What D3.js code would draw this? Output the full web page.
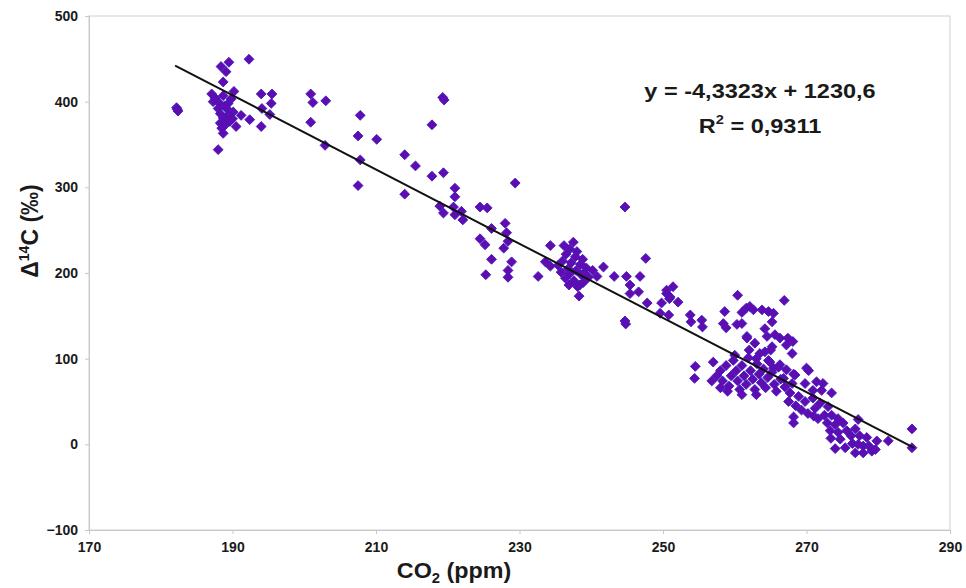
<!DOCTYPE html>
<html>
<head>
<meta charset="utf-8">
<script src="https://cdn.jsdelivr.net/npm/d3@7"></script>
<style>
    body { margin: 0; background: #fff; }
    text { font-family: "Liberation Sans", Arial, sans-serif; font-weight: bold; fill: #1a1a1a; }
    .axis path, .axis line { stroke: #c8c8c8; }
    .axis text { font-size: 14px; }
</style>
</head>
<body>
<script>
// CO2 (ppm) / delta 14C (per mil) pairs
const co2 = [
    182.3, 182.2, 182.4, 192.3, 189.5, 188.4, 189.1, 188.7, 190.2, 187.1, 188.7, 187.3, 188.2, 189.4, 188, 189.2,
    190.1, 188.3, 189.4, 191.2, 192.4, 188.7, 188.3, 189, 190.5, 188.5, 188.7, 194, 188, 194, 195.5, 194.1,
    195.4, 195.2, 190, 187.6, 189.8, 188.9, 189.6, 200.9, 201.2, 203, 200.9, 207.8, 207.5, 210.1, 202.9, 207.8,
    207.5, 214, 215.5, 214,
    219.3, 219.5, 217.8, 217.8, 219.4, 221, 221, 218.9, 219.4, 220.8, 221, 221.9, 222.1, 229.4, 224.5, 225.5,
    226.1, 228, 228.2, 224.5, 225.2, 228.4, 227.8, 226.1, 228.9, 225.3, 228.4, 228.4, 232.6, 233.6, 234.3, 234.3,
    236.2, 237.5, 237, 238, 236.5, 237.8, 238.8, 236, 237.2, 238.5, 239.3, 236.8, 237.9, 235.8, 237, 238.6,
    239.6, 236.4, 237.6, 238.9, 236.9, 238.1, 239, 240.2, 235.4, 238.3, 238.4, 241.7, 240.8, 243.2, 244.9, 245.4,
    246.8, 245.4, 246.6, 247.8, 249.8, 250.5, 251.4, 250.9, 249.6, 250.8, 244.7, 247.6, 244.8, 244.7,
    250.5, 251, 252.1, 253.8, 253.9, 255.4, 255.5, 260.4, 258.6, 261, 261.6, 262.6, 258.4, 258.8, 260.3, 261,
    261.7, 262.8, 254.5, 254.4, 266.9, 262.1, 263.8, 264.7, 265.4, 265.2, 264.2, 264.5, 265.6, 266.3, 267.4, 268.1,
    267.2, 265.2, 261.7, 268, 264.2, 263, 264.7, 266.3, 265.4, 267.2, 268.4, 270, 266.8, 268, 256.8,
    257.5, 258, 258.3, 258.8, 259.2, 259.5, 259.8, 260.2, 260.4, 260.7, 261, 261.3, 261.6, 261.9, 262.2, 262.5,
    262.8, 263.1, 263.4, 263.7, 264, 264.3, 264.6, 264.9, 265.2, 265.5, 265.8, 266.1, 266.4, 259, 260, 262,
    263.5, 257, 258, 261, 263, 265,
    270.3, 268.2, 269.8, 271.4, 272.3, 272.1, 273.5, 270.9, 267, 267.7, 268.9, 269.8, 270.9, 271.9, 273, 271.2,
    268.2, 268.2, 271.6, 272.5, 273.5, 274.4, 272.9, 274, 275.1, 277.2, 276.8, 275.6, 274.4, 273.3, 276.2, 277.4,
    278.4, 279.8, 281.4, 284.7, 284.7, 274, 275.4, 276.8, 277.9, 279.1, 277.9, 276.4, 274.7, 273.4, 277.2, 278.7,
    279.6, 267.5, 268.5, 269.3, 270.2, 271
];
const d14c = [
    391, 393, 389, 449.5, 446, 441, 435, 423, 412, 409, 407, 400, 398, 398, 392, 392,
    388, 386, 384, 384, 379, 381, 375, 373, 371, 369, 363, 371, 344, 409, 409, 392,
    398, 385, 380, 404, 403, 395, 377, 409, 399, 401, 376, 384, 360, 356, 349, 332,
    302, 338, 325, 292,
    405, 402, 373, 313, 317, 299, 289, 278, 270, 277, 268, 272, 262, 305, 277, 276,
    252, 258, 247, 240, 233, 237, 229, 216, 213, 198, 203, 195, 196, 213, 208, 232,
    232, 236, 228, 225, 222, 219, 216, 214, 212, 210, 206, 205, 203, 201, 199, 198,
    195, 194, 191, 189, 186, 184, 200, 203, 209, 173, 186, 207, 196, 196, 196, 186,
    196, 176, 178, 165, 165, 176, 184, 170, 153, 151, 277, 217, 140.5, 144,
    180, 172, 166, 151, 143, 145, 137, 174, 155, 154, 159, 157, 141, 136, 140, 141,
    126, 118, 91, 77, 168, 161, 157, 155, 153, 143, 135, 126, 128, 124, 124, 120,
    116, 114, 124, 106, 108, 100, 98, 93, 89, 87, 81, 89, 77, 71, 74,
    80, 86, 74, 92, 68, 80, 98, 86, 74, 64, 92, 80, 70, 101, 86, 76,
    64, 94, 82, 72, 88, 66, 78, 96, 84, 70, 62, 90, 76, 62, 104, 110,
    106, 96, 66, 58, 58, 110,
    86, 82, 71, 73, 71, 63, 60, 63, 67, 60, 56, 50, 54, 48, 44, 42,
    32, 25, 30, 34, 34, 30, 25, 23, 25, 29, 18, 16, 14, 16, 10, 10,
    8, 4, 4, 18, -4, -5, -4, -10, -10, -8, -2, 1, 6, 7, 0, -2,
    -6, 50, 45, 40, 36, 33
];

// linear trend as printed on the chart
const slope = -4.3323;
const intercept = 1230.6;
const trendRange = [182, 285];

const xTicks = [170, 190, 210, 230, 250, 270, 290];
const yTicks = [-100, 0, 100, 200, 300, 400, 500];

const width = 966, height = 588;
const margins = {top: 16, left: 89, right: 16, bottom: 58};
const quadrantWidth = width - margins.left - margins.right;
const quadrantHeight = height - margins.top - margins.bottom;

const svg = d3.select('body').append('svg')
    .attr('width', width)
    .attr('height', height);

const x = d3.scaleLinear().domain([170, 290]).range([0, quadrantWidth]);
const y = d3.scaleLinear().domain([-100, 500]).range([quadrantHeight, 0]);

const bodyG = svg.append('g')
    .attr('transform', 'translate(' + margins.left + ',' + margins.top + ')');

// light frame round the plot area
bodyG.append('rect')
    .attr('width', quadrantWidth)
    .attr('height', quadrantHeight)
    .attr('fill', 'none')
    .attr('stroke', '#d0d0d0');

bodyG.append('g')
    .attr('class', 'x axis')
    .attr('transform', 'translate(0,' + quadrantHeight + ')')
    .call(d3.axisBottom(x).tickValues(xTicks).tickSize(4).tickPadding(8).tickFormat(d3.format('d')));

bodyG.append('g')
    .attr('class', 'y axis')
    .call(d3.axisLeft(y).tickValues(yTicks).tickSize(4).tickPadding(7).tickFormat(d3.format('d')));

const points = co2.map((c, i) => ({x: c, y: d14c[i]}));
const diamond = d3.symbol().type(d3.symbolDiamond2).size(62);

bodyG.append('g')
    .selectAll('path')
    .data(points)
    .enter().append('path')
    .attr('d', diamond)
    .attr('transform', d => 'translate(' + x(d.x) + ',' + y(d.y) + ')')
    .attr('fill', '#620bb0')
    .attr('stroke', '#3a1cc0')
    .attr('stroke-width', 0.9);

bodyG.append('line')
    .attr('x1', x(trendRange[0]))
    .attr('y1', y(slope * trendRange[0] + intercept))
    .attr('x2', x(trendRange[1]))
    .attr('y2', y(slope * trendRange[1] + intercept))
    .attr('stroke', '#111')
    .attr('stroke-width', 2);

// equation box, the source text is a little wider than Arial
const eq = svg.append('g').attr('transform', 'translate(760,0) scale(1.12,1)');
eq.append('text')
    .attr('y', 98)
    .attr('text-anchor', 'middle')
    .style('font-size', '21px')
    .text('y = -4,3323x + 1230,6');
const r2 = eq.append('text')
    .attr('y', 133)
    .attr('text-anchor', 'middle')
    .style('font-size', '21px');
r2.append('tspan').text('R');
r2.append('tspan').attr('dy', -9).style('font-size', '13px').text('2');
r2.append('tspan').attr('dy', 9).text(' = 0,9311');

// axis titles
const yTitle = svg.append('text')
    .attr('transform', 'translate(38,231) rotate(-90)')
    .attr('text-anchor', 'middle')
    .style('font-size', '23px');
yTitle.append('tspan').text('Δ');
yTitle.append('tspan').attr('dy', -9).style('font-size', '14px').text('14');
yTitle.append('tspan').attr('dy', 9).text('C (‰)');

const xTitle = svg.append('text')
    .attr('transform', 'translate(454,578) scale(1.06,1)')
    .attr('text-anchor', 'middle')
    .style('font-size', '22px');
xTitle.append('tspan').text('CO');
xTitle.append('tspan').attr('dy', 5).style('font-size', '14px').text('2');
xTitle.append('tspan').attr('dy', -5).text(' (ppm)');
</script>
</body>
</html>
